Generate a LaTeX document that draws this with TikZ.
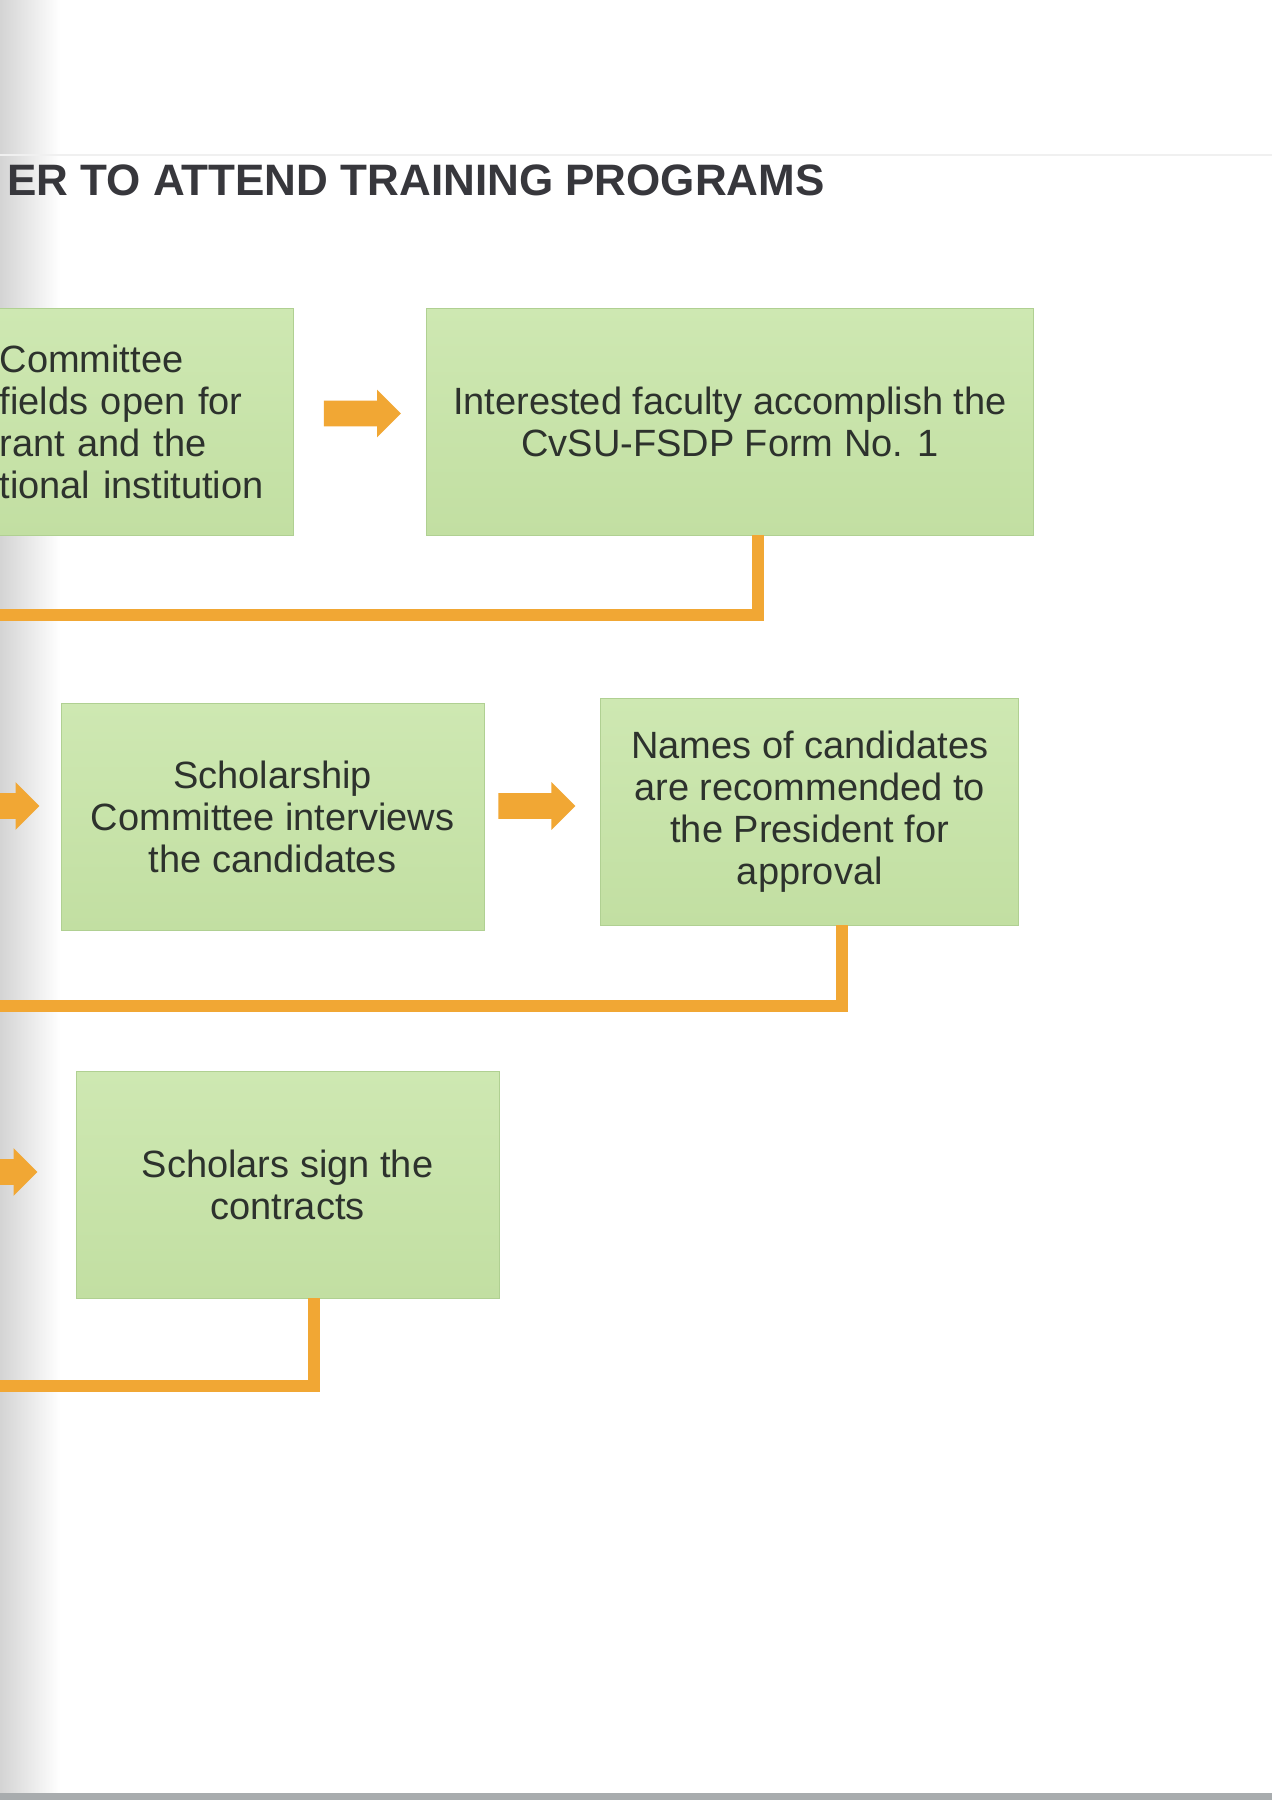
\documentclass[tikz,border=0pt]{standalone}
\usepackage{fontspec}
\setmainfont{Liberation Sans}
\usetikzlibrary{positioning,calc,shapes.arrows}
\definecolor{boxtop}{RGB}{206,232,178}
\definecolor{boxbot}{RGB}{194,223,162}
\definecolor{boxedge}{RGB}{176,208,146}
\definecolor{flowor}{RGB}{241,167,52}
\definecolor{inkgray}{RGB}{45,50,45}
\definecolor{titlegray}{RGB}{55,55,60}
\definecolor{edgegray}{RGB}{168,172,174}

\begin{document}
\begin{tikzpicture}[
  x=0.5pt, y=-0.5pt,
  stepbox/.style={rectangle, draw=boxedge, line width=0.4pt, top color=boxtop, bottom color=boxbot,
    text=inkgray, align=center, inner sep=0pt, minimum height=113.5pt, font=\fontsize{19}{21}\selectfont},
  flow/.style={single arrow, fill=flowor, draw=none, minimum height=38.5pt, inner xsep=0pt, inner ysep=6.25pt,
    single arrow head extend=5.5pt, single arrow tip angle=90},
  link/.style={draw=flowor, line width=6pt}
]
\useasboundingbox (0,0) rectangle (1272,1800);
\clip (0,0) rectangle (1272,1800);
\fill[white] (0,0) rectangle (1272,1800);
\shade[left color=black!17, right color=white] (0,0) rectangle (60,1800);
\draw[black!6, line width=1pt] (0,155) -- (1272,155);

\node[anchor=base west, inner sep=0pt, text=titlegray, font=\fontsize{22}{26}\selectfont\bfseries]
  (title) at (7,195) {ER TO ATTEND TRAINING PROGRAMS};

\node[stepbox, anchor=east, text width=147pt, align=left] (sel) at (294,421.5)
  {Committee\\fields open for\\rant and the\\tional institution};
\node[stepbox, right=66pt of sel, minimum width=303.5pt] (form)
  {Interested faculty accomplish the\\CvSU-FSDP Form No. 1};

\node[stepbox, minimum width=211.5pt] (ctee) at (272.5,816.5)
  {Scholarship\\Committee interviews\\the candidates};
\node[stepbox, right=58pt of ctee, yshift=2.5pt, minimum width=209pt] (rec)
  {Names of candidates\\are recommended to\\the President for\\approval};

\node[stepbox, minimum width=211.5pt] (sign) at (287.5,1184.5)
  {Scholars sign the\\contracts};

\node[flow, xshift=-2pt, yshift=4pt] (a1) at ($(sel.east)!0.5!(form.west)$) {};
\node[flow, xshift=-6pt, yshift=4pt] (a2) at ($(ctee.east)!0.5!(rec.west)$) {};
\node[flow, anchor=tip] (a3) at (40,806) {};
\node[flow, anchor=tip] (a4) at (38,1172) {};

\coordinate (r1) at (-10,615);
\coordinate (r2) at (-10,1006);
\coordinate (r3) at (-10,1386);
\draw[link] ([xshift=14pt]form.south) |- (r1);
\draw[link] ([xshift=16pt]rec.south) |- (r2);
\draw[link] ([xshift=13pt]sign.south) |- (r3);

\fill[edgegray] (0,1793) rectangle (1272,1800);
\end{tikzpicture}
\end{document}
